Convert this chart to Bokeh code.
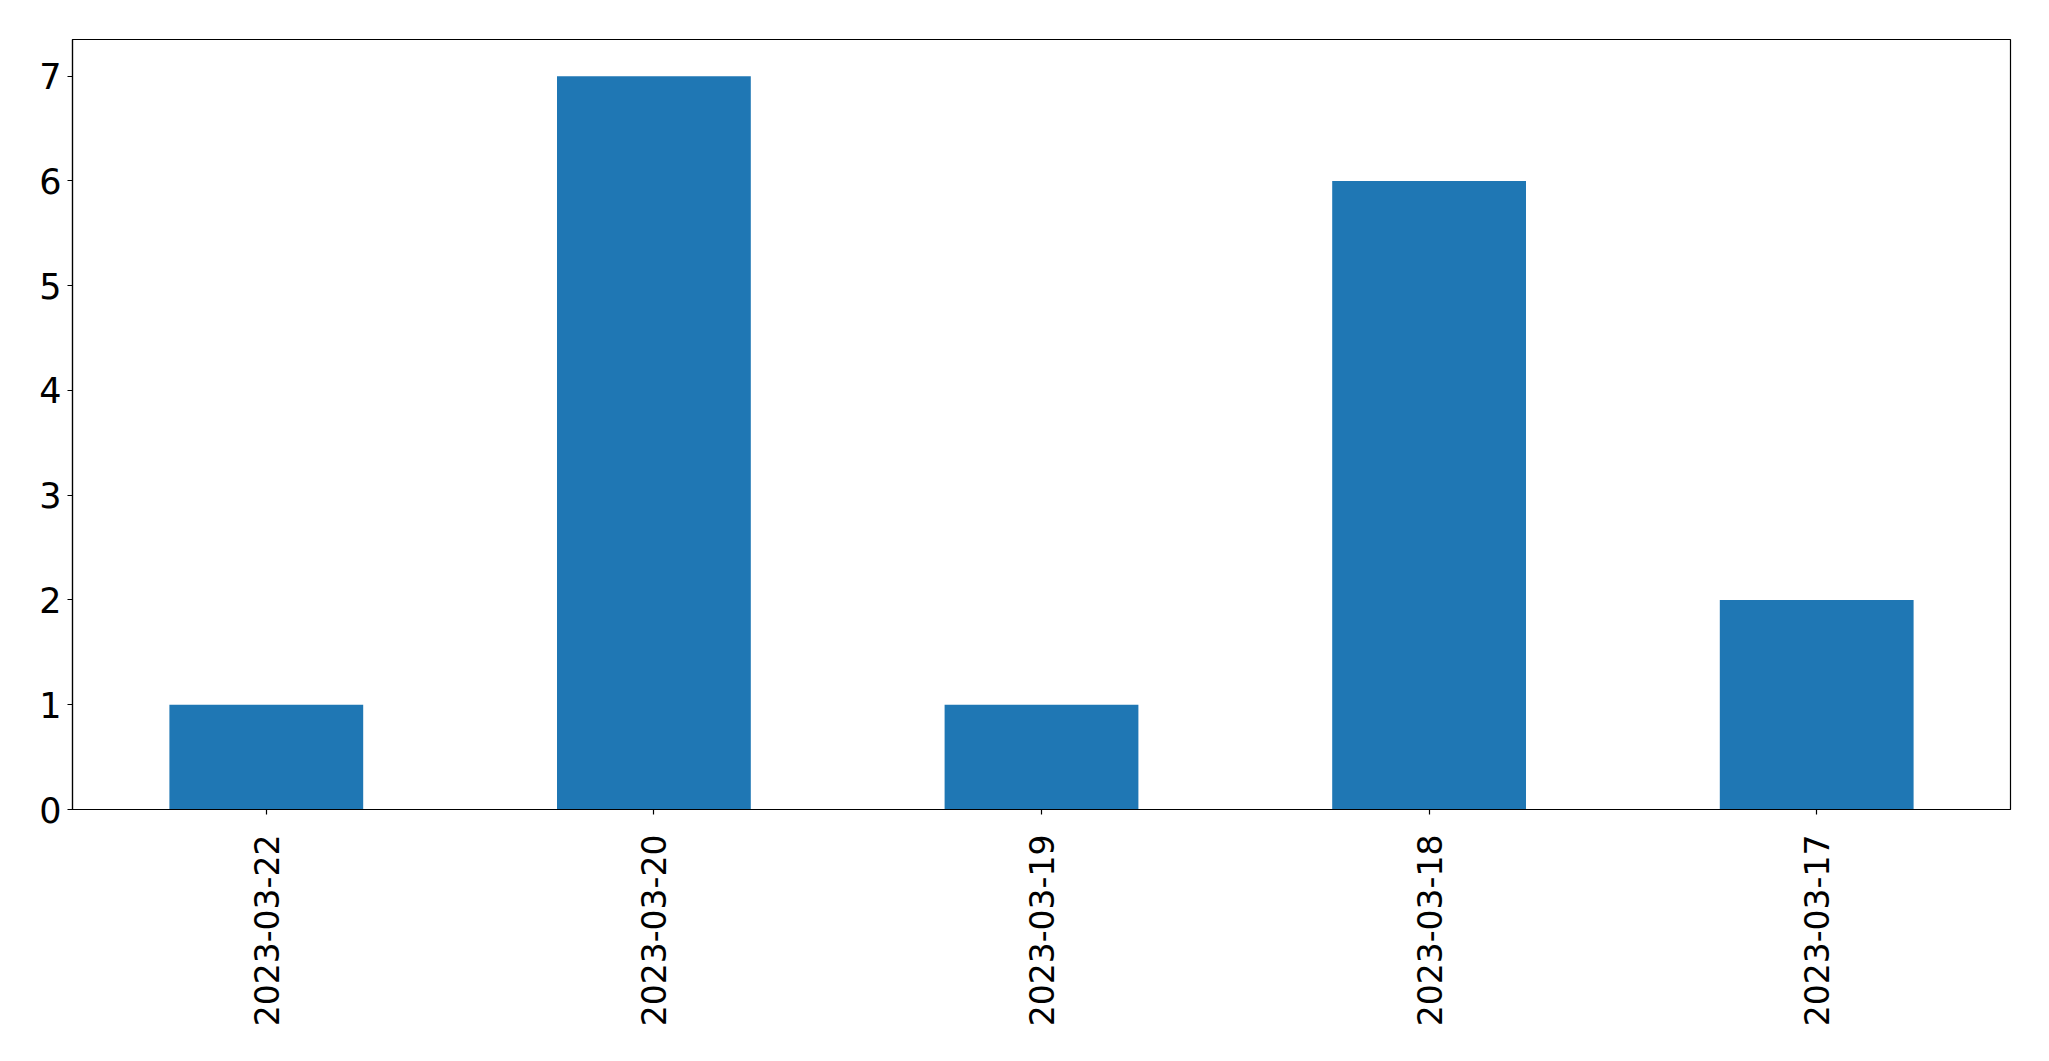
import math
from bokeh.plotting import figure
from bokeh.models import FactorRange, Range1d, FixedTicker, ColumnDataSource
from bokeh.embed import file_html
from bokeh.resources import INLINE

dates = ["2023-03-22", "2023-03-20", "2023-03-19", "2023-03-18", "2023-03-17"]
counts = [1, 7, 1, 6, 2]
y_ticks = [0, 1, 2, 3, 4, 5, 6, 7]

src = ColumnDataSource(data=dict(date=dates, count=counts))

p = figure(
    width=2033, height=1045,
    x_range=FactorRange(*dates), y_range=Range1d(0, 7.35),
    output_backend="svg", toolbar_location=None,
    min_border_left=72, min_border_right=23, min_border_top=39, min_border_bottom=236,
)
p.vbar(x="date", top="count", width=0.5, source=src, color="#1f77b4", line_color=None)

p.xgrid.visible = False
p.ygrid.visible = False
p.outline_line_color = "black"
p.outline_line_width = 1.2
p.outline_line_alpha = 1

for ax in (p.xaxis[0], p.yaxis[0]):
    ax.axis_line_color = "black"
    ax.axis_line_width = 1.2
    ax.major_tick_line_color = "black"
    ax.major_tick_line_width = 1.2
    ax.major_tick_out = 5
    ax.major_tick_in = 0
    ax.minor_tick_line_color = None
    ax.major_label_text_font = "DejaVu Sans"
    ax.major_label_text_color = "black"

p.yaxis[0].major_label_text_font_size = "35px"
p.xaxis[0].major_label_text_font_size = "33px"
p.yaxis[0].ticker = FixedTicker(ticks=y_ticks)
p.yaxis[0].major_label_standoff = 6
p.xaxis[0].major_label_orientation = math.pi / 2
p.xaxis[0].major_label_standoff = 20

open("out.html", "w").write(file_html(p, INLINE))
